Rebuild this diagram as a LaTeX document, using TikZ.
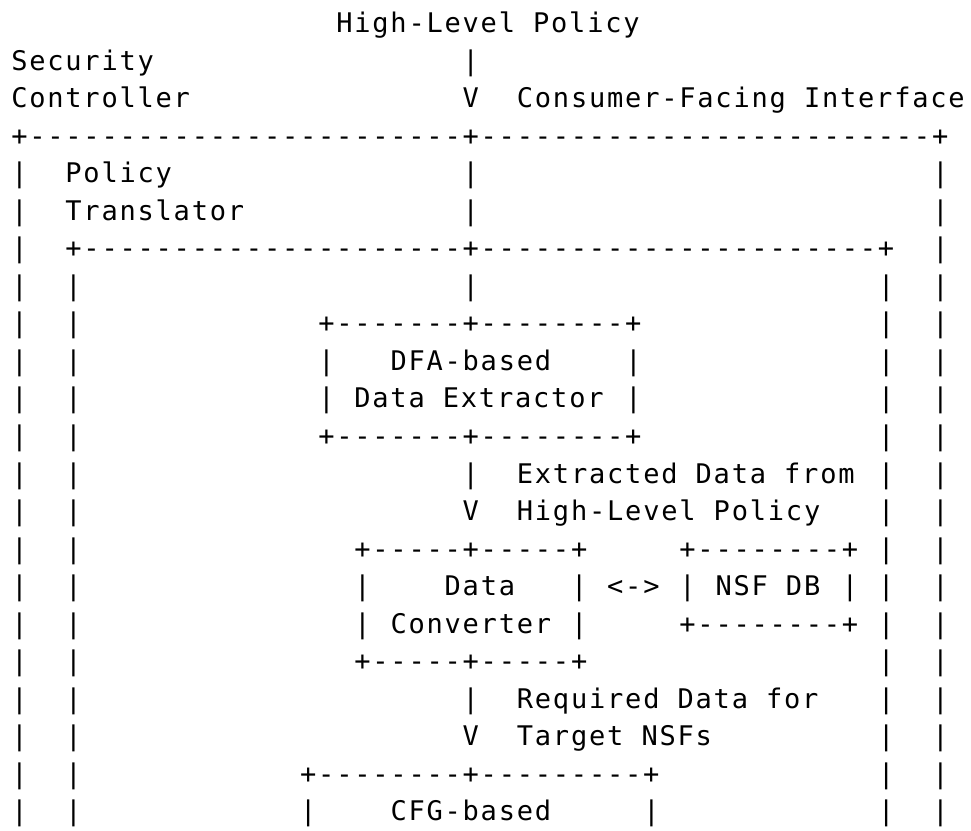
\documentclass[tikz,border=0pt]{standalone}
\usepackage{fontspec}
\setmonofont[LetterSpace=6.6]{DejaVu Sans Mono}

\begin{document}
\begin{tikzpicture}[x=13.53pt,y=-28.125pt,
  ascii/.style={anchor=base west,inner sep=0pt,font=\fontsize{20.25}{28}\ttfamily}]
% one unit = one character cell (column, row)
\clip (-0.609,-0.867) rectangle (53.16,21.27);

% Top labels
\node [ascii] (hlp) at (18,0) {High-Level Policy};
\node [ascii] (secu) at (0,1) {Security};
\node [ascii] (ctrl) at (0,2) {Controller};
\node [ascii] (cfi) at (28,2) {Consumer-Facing Interface};

% Centre column
\foreach \r in {1,4,5,7,12,18} {
  \node [ascii] (mid-\r) at (25,\r) {|};
}
\foreach \r in {2,13,19} {
  \node [ascii] (arr-\r) at (25,\r) {V};
}

% Outer box: Security Controller
\node [ascii] (outer-top) at (0,3) {+------------------------+-------------------------+};
\foreach \r in {4,...,21} {
  \node [ascii] (outerL-\r) at (0,\r) {|};
  \node [ascii] (outerR-\r) at (51,\r) {|};
}
\node [ascii] (pol) at (3,4) {Policy};
\node [ascii] (trans) at (3,5) {Translator};

% Inner box: Policy Translator
\node [ascii] (inner-top) at (3,6) {+---------------------+----------------------+};
\foreach \r in {7,...,21} {
  \node [ascii] (innerL-\r) at (3,\r) {|};
  \node [ascii] (innerR-\r) at (48,\r) {|};
}

% DFA-based Data Extractor
\node [ascii] (dfa-top) at (17,8) {+-------+--------+};
\node [ascii] (dfaL-9) at (17,9) {|};
\node [ascii] (dfa1) at (21,9) {DFA-based};
\node [ascii] (dfaR-9) at (34,9) {|};
\node [ascii] (dfaL-10) at (17,10) {|};
\node [ascii] (dfa2) at (19,10) {Data Extractor};
\node [ascii] (dfaR-10) at (34,10) {|};
\node [ascii] (dfa-bot) at (17,11) {+-------+--------+};
\node [ascii] (ext1) at (28,12) {Extracted Data from};
\node [ascii] (ext2) at (28,13) {High-Level Policy};

% Data Converter and NSF DB
\node [ascii] (conv-top) at (19,14) {+-----+-----+};
\node [ascii] (nsf-top) at (37,14) {+--------+};
\node [ascii] (convL-15) at (19,15) {|};
\node [ascii] (conv1) at (24,15) {Data};
\node [ascii] (convR-15) at (31,15) {|};
\node [ascii] (link) at (33,15) {<->};
\node [ascii] (nsfL) at (37,15) {|};
\node [ascii] (nsf) at (39,15) {NSF DB};
\node [ascii] (nsfR) at (46,15) {|};
\node [ascii] (convL-16) at (19,16) {|};
\node [ascii] (conv2) at (21,16) {Converter};
\node [ascii] (convR-16) at (31,16) {|};
\node [ascii] (nsf-bot) at (37,16) {+--------+};
\node [ascii] (conv-bot) at (19,17) {+-----+-----+};
\node [ascii] (req1) at (28,18) {Required Data for};
\node [ascii] (req2) at (28,19) {Target NSFs};

% CFG-based box
\node [ascii] (cfg-top) at (16,20) {+--------+---------+};
\node [ascii] (cfgL-21) at (16,21) {|};
\node [ascii] (cfg1) at (21,21) {CFG-based};
\node [ascii] (cfgR-21) at (35,21) {|};
\end{tikzpicture}
\end{document}
